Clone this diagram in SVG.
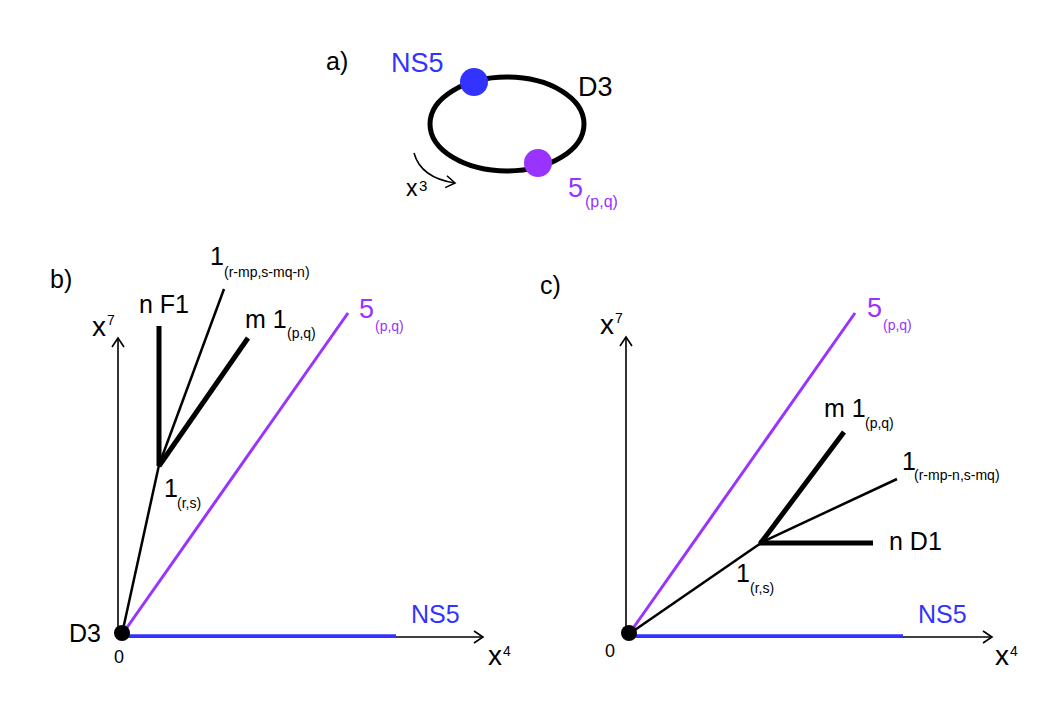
<svg xmlns="http://www.w3.org/2000/svg" width="1063" height="709" viewBox="0 0 1063 709">
<style>
text{font-family:"Liberation Sans",Arial,sans-serif;fill:#000}
.lbl{font-size:25px}
.big{font-size:27px}
.sub{font-size:14px}
.ax{font-size:28px}
.sup{font-size:14px}
.blue{fill:#3333ff}
.purp{fill:#9933ff}
.axis{stroke:#000;stroke-width:1.6;fill:none}
.thin{stroke:#000;stroke-width:2.5;fill:none}
.thick{stroke:#000;stroke-width:5;fill:none}
.pl{stroke:#9933ff;stroke-width:3;fill:none}
.bl{stroke:#3333ff;stroke-width:3.5;fill:none}
</style>
<defs>
<marker id="arr" markerUnits="userSpaceOnUse" markerWidth="20" markerHeight="20" refX="10" refY="10" orient="auto" overflow="visible">
<path d="M1,4 L10,10 L1,16" fill="none" stroke="#000" stroke-width="1.6"/>
</marker>
</defs>
<rect width="1063" height="709" fill="#fff"/>

<g id="panel-a">
<text class="lbl" x="326" y="70">a)</text>
<ellipse cx="507" cy="124" rx="77" ry="47" fill="none" stroke="#000" stroke-width="5"/>
<g id="a-ns5"><circle cx="474" cy="82" r="14" fill="#3333ff"/><text class="big blue" x="391" y="72">NS5</text></g>
<g id="a-d3"><text class="big" x="578" y="96">D3</text></g>
<g id="a-5pq"><circle cx="538" cy="163" r="14" fill="#9933ff"/><text class="big purp" x="568" y="197">5</text><text class="purp" style="font-size:16px" x="585" y="207">(p,q)</text></g>
<g id="a-x3"><path d="M414,153 Q421,178 455,183" class="axis" stroke-width="1.8" marker-end="url(#arr)"/><text style="font-size:23px" x="406" y="196">x</text><text style="font-size:15px" x="419" y="191">3</text></g>
</g>

<g id="panel-b">
<text class="lbl" x="50" y="288">b)</text>
<g id="b-axes">
<line x1="118" y1="636" x2="118" y2="338" class="axis" marker-end="url(#arr)"/>
<line x1="118" y1="637" x2="483" y2="637" class="axis" marker-end="url(#arr)"/>
<text class="ax" x="92" y="336">x</text><text class="sup" x="107" y="325">7</text>
<text class="ax" x="488" y="665">x</text><text class="sup" x="503" y="656">4</text>
</g>
<g id="b-connectors">
<line x1="121" y1="636" x2="396" y2="636" class="bl"/>
<line x1="121" y1="636" x2="348" y2="313" class="pl"/>
<line x1="122" y1="634" x2="159" y2="465" class="thin"/>
<line x1="159" y1="466" x2="159" y2="326" class="thick"/>
<line x1="159" y1="465" x2="224" y2="289" class="thin"/>
<line x1="159" y1="466" x2="248" y2="338" class="thick"/>
</g>
<g id="b-origin"><circle cx="122" cy="633" r="8" fill="#000"/><text class="lbl" x="69" y="642">D3</text><text style="font-size:18px" x="114" y="663">0</text></g>
<g id="b-ns5"><text class="lbl blue" x="411" y="623">NS5</text></g>
<g id="b-5pq"><text class="big purp" x="359" y="318">5</text><text class="sub purp" x="375" y="331">(p,q)</text></g>
<g id="b-nf1"><text class="lbl" x="139" y="313">n F1</text></g>
<g id="b-m1"><text class="lbl" x="245" y="328">m 1</text><text class="sub" x="287" y="338">(p,q)</text></g>
<g id="b-1top"><text class="lbl" x="210" y="265">1</text><text class="sub" x="224" y="277">(r-mp,s-mq-n)</text></g>
<g id="b-1rs"><text class="lbl" x="164" y="497">1</text><text class="sub" x="177" y="508">(r,s)</text></g>
</g>

<g id="panel-c">
<text class="lbl" x="540" y="294">c)</text>
<g id="c-axes">
<line x1="626" y1="636" x2="626" y2="337" class="axis" marker-end="url(#arr)"/>
<line x1="626" y1="637" x2="992" y2="637" class="axis" marker-end="url(#arr)"/>
<text class="ax" x="600" y="334">x</text><text class="sup" x="615" y="323">7</text>
<text class="ax" x="995" y="665">x</text><text class="sup" x="1010" y="656">4</text>
</g>
<g id="c-connectors">
<line x1="629" y1="636" x2="903" y2="636" class="bl"/>
<line x1="629" y1="634" x2="855" y2="313" class="pl"/>
<line x1="629" y1="634" x2="761" y2="543" class="thin"/>
<line x1="760" y1="544" x2="844" y2="432" class="thick"/>
<line x1="760" y1="543" x2="897" y2="479" class="thin"/>
<line x1="759" y1="543" x2="873" y2="543" class="thick"/>
</g>
<g id="c-origin"><circle cx="629" cy="633" r="8" fill="#000"/><text style="font-size:18px" x="605" y="657">0</text></g>
<g id="c-ns5"><text class="lbl blue" x="918" y="623">NS5</text></g>
<g id="c-5pq"><text class="big purp" x="867" y="317">5</text><text class="sub purp" x="883" y="330">(p,q)</text></g>
<g id="c-m1"><text class="lbl" x="824" y="417">m 1</text><text class="sub" x="865" y="428">(p,q)</text></g>
<g id="c-1mid"><text class="lbl" x="902" y="470">1</text><text class="sub" x="914" y="480">(r-mp-n,s-mq)</text></g>
<g id="c-nd1"><text class="lbl" x="889" y="550">n D1</text></g>
<g id="c-1rs"><text class="lbl" x="736" y="582">1</text><text class="sub" x="750" y="593">(r,s)</text></g>
</g>
</svg>
